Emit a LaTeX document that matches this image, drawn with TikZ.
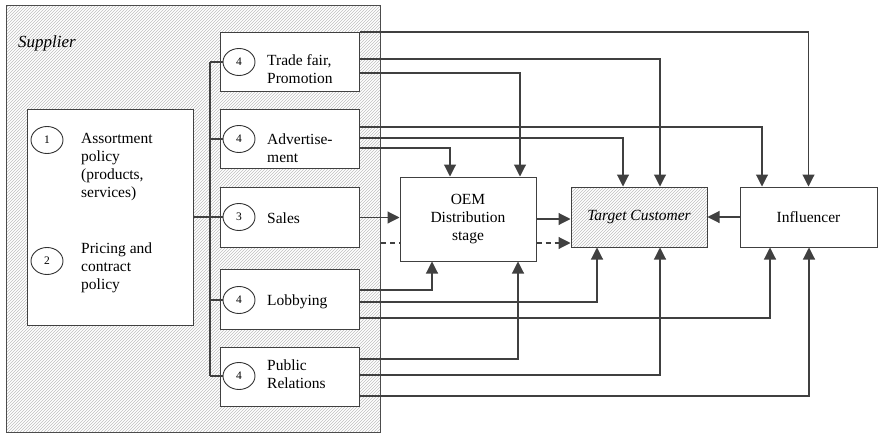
\documentclass[tikz,border=0pt]{standalone}
\usepackage{fontspec}
\setmainfont{Liberation Serif}
\usetikzlibrary{arrows.meta,patterns,shapes.geometric}

\tikzset{
  box/.style={draw=black!75, line width=1pt, fill=white, minimum width=139pt, minimum height=59pt, inner sep=0pt},
  hatch/.style={pattern=north east lines, pattern color=black!25},
  num/.style={ellipse, draw=black!80, line width=0.9pt, fill=white, minimum width=32pt, minimum height=27pt, inner sep=0pt, font=\fontsize{11.5}{13}\selectfont},
  lbl/.style={anchor=west, align=left, inner sep=0pt},
  link/.style={draw=black!75, line width=1.1pt},
  arr/.style={link, -{Triangle[length=12pt,width=12pt]}},
}

\begin{document}
\begin{tikzpicture}[x=1pt,y=-1pt,font=\fontsize{15.5}{18}\selectfont]
        \useasboundingbox (0,0) rectangle (879,434);

        % Supplier
        \node[draw=black!70, line width=1pt, hatch, minimum width=374pt, minimum height=427pt, anchor=north west] (supplier) at (6,5) {};
        \node[lbl, font=\fontsize{17}{18}\selectfont\itshape] (suplbl) at (18,43) {Supplier};

        % Policies 1 and 2
        \node[box, minimum width=166pt, minimum height=216pt, anchor=north west] (policy) at (27,109) {};
        \node[num] (c1) at (47,140) {1};
        \node[lbl] (t1) at (81,167) {Assortment\\policy\\(products,\\services)};
        \node[num] (c2) at (47,261) {2};
        \node[lbl] (t2) at (81,268) {Pricing and\\contract\\policy};

        % Instruments 3 and 4
        \node[box, anchor=north west] (trade) at (220,32) {};
        \node[box, anchor=north west] (adv) at (220,109) {};
        \node[box, minimum height=60pt, anchor=north west] (sales) at (220,187) {};
        \node[box, minimum height=60pt, anchor=north west] (lobby) at (220,269) {};
        \node[box, anchor=north west] (pr) at (220,347) {};

        \node[num] (ctrade) at (239,62) {4};
        \node[lbl] (ttrade) at (267,69) {Trade fair,\\Promotion};
        \node[num] (cadv) at (239,139) {4};
        \node[lbl] (tadv) at (267,148) {Advertise-\\ment};
        \node[num] (csales) at (239,217) {3};
        \node[lbl] (tsales) at (267,218) {Sales};
        \node[num] (clobby) at (239,300) {4};
        \node[lbl] (tlobby) at (267,302) {Lobbying};
        \node[num] (cpr) at (239,376) {4};
        \node[lbl] (tpr) at (267,374) {Public\\Relations};

        % Bus
        \coordinate (bus) at (210,0);
        \draw[link] (ctrade.west -| bus) -- (cpr.west -| bus);
        \foreach \c in {ctrade,cadv,csales,clobby,cpr}
          \draw[link] (\c.west -| bus) -- (\c.west);
        \draw[link] (policy.east |- csales) -- (csales.west);

        % Market side
        \node[box, minimum width=136pt, minimum height=84pt, align=center] (oem) at (468,219) {OEM\\Distribution\\stage};
        \node[box, hatch, minimum width=136pt, minimum height=60pt, font=\fontsize{15.5}{18}\selectfont\itshape] (tgt) at (639,217) {Target Customer};
        \node[box, minimum width=137pt, minimum height=60pt] (infl) at (808.5,217) {Influencer};

        % Trade fair, Promotion
        \draw[arr] (trade.north east) -| (infl.north);
        \draw[arr] (trade.east |- 0,59) -| (tgt.north -| 660,0);
        \draw[arr] (trade.east |- 0,73) -| (oem.north -| 520,0);

        % Advertisement
        \draw[arr] (adv.east |- 0,127) -| (infl.north -| 762,0);
        \draw[arr] (adv.east |- 0,138) -| (tgt.north -| 623,0);
        \draw[arr] (adv.east |- 0,148) -| (oem.north -| 450,0);

        % Sales
        \draw[arr] (sales.east) -- (oem.west |- sales.east);
        \draw[link, dash pattern=on 5pt off 4pt] (supplier.east |- 0,243) -- (oem.west |- 0,243);
        \draw[arr] (oem.east |- 0,219) -- (tgt.west |- 0,219);
        \draw[arr, dash pattern=on 5pt off 4pt] (oem.east |- 0,243) -- (tgt.west |- 0,243);
        \draw[arr] (infl.west) -- (tgt.east);

        % Lobbying
        \draw[arr] (lobby.east |- 0,290) -| (oem.south -| 432,0);
        \draw[arr] (lobby.east |- 0,302) -| (tgt.south -| 597,0);
        \draw[arr] (lobby.east |- 0,318) -| (infl.south -| 770,0);

        % Public Relations
        \draw[arr] (pr.east |- 0,359) -| (oem.south -| 518,0);
        \draw[arr] (pr.east |- 0,375) -| (tgt.south -| 660,0);
        \draw[arr] (pr.east |- 0,396) -| (infl.south -| 809,0);

      \end{tikzpicture}
\end{document}
